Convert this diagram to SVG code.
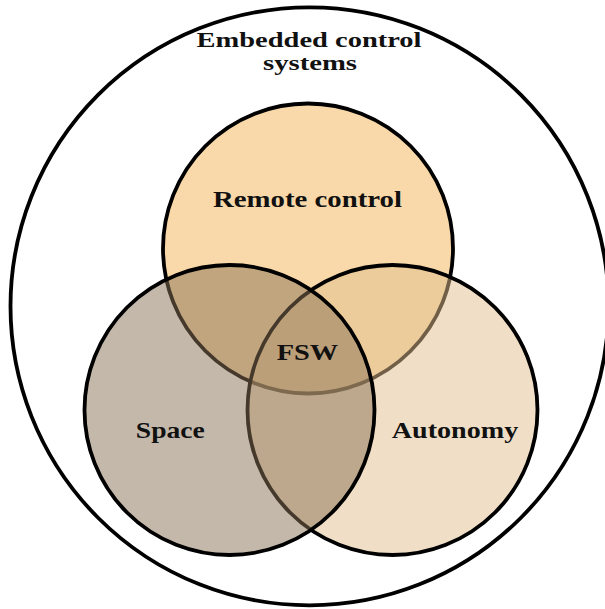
<svg xmlns="http://www.w3.org/2000/svg" width="605" height="609" viewBox="0 0 605 609">
  <style>
    .ring { stroke: #000; stroke-width: 3.8; }
    .set { fill-opacity: 0.5; stroke: #000; stroke-opacity: 1; stroke-width: 3.8; }
    .lbl { font-family: "Liberation Serif", "Times New Roman", serif; font-weight: bold; font-size: 24px; fill: #111; text-anchor: middle; }
    .head { font-size: 20px; }
  </style>
  <rect width="605" height="609" fill="#fff"/>

  <!-- outer boundary: embedded control systems -->
  <g id="embedded">
    <circle class="ring" cx="309.5" cy="306.3" r="299" fill="none"/>
    <text class="lbl head" x="309" y="46.5" textLength="225" lengthAdjust="spacingAndGlyphs">Embedded control</text>
    <text class="lbl head" x="310" y="69.5" textLength="94" lengthAdjust="spacingAndGlyphs">systems</text>
  </g>

  <!-- three overlapping sets, drawn back to front -->
  <g id="remote">
    <circle class="set" cx="308" cy="248.5" r="145" fill="#f3b353"/>
  </g>
  <g id="autonomy">
    <circle class="set" cx="392.5" cy="410" r="145" fill="#e1bf8d"/>
  </g>
  <g id="space">
    <circle class="set" cx="229.5" cy="410" r="145" fill="#897155"/>
  </g>

  <!-- labels -->
  <g id="labels">
    <text class="lbl" x="307.5" y="206.5" textLength="189" lengthAdjust="spacingAndGlyphs">Remote control</text>
    <text class="lbl" x="307.5" y="360" textLength="61.5" lengthAdjust="spacingAndGlyphs">FSW</text>
    <text class="lbl" x="170.3" y="438.3" textLength="69" lengthAdjust="spacingAndGlyphs">Space</text>
    <text class="lbl" x="455" y="437.5" textLength="126.5" lengthAdjust="spacingAndGlyphs">Autonomy</text>
  </g>
</svg>
